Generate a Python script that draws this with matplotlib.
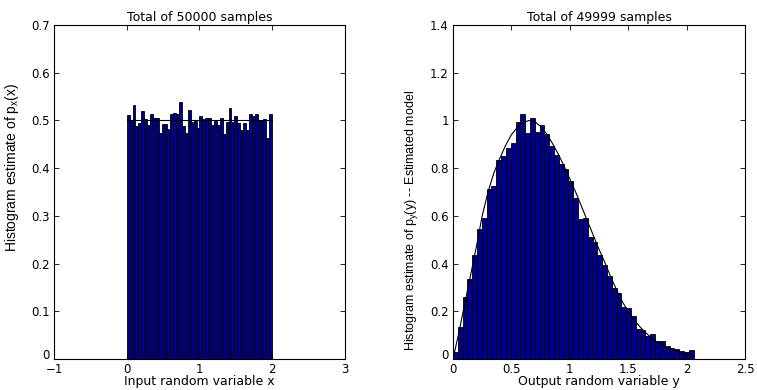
import numpy as np
import matplotlib
matplotlib.use("Agg")
import matplotlib.pyplot as plt
from matplotlib.ticker import FuncFormatter

plt.rcParams["mathtext.fontset"] = "custom"
plt.rcParams["mathtext.rm"] = "Liberation Sans"

# left panel: histogram of x (50 bins on [0, 2])
x_lo, x_hi = 0.0, 2.0
px_hist = [0.511, 0.500, 0.532, 0.489, 0.495, 0.520, 0.504, 0.490, 0.513, 0.505,
           0.505, 0.473, 0.492, 0.492, 0.483, 0.513, 0.515, 0.513, 0.538, 0.489,
           0.474, 0.521, 0.497, 0.499, 0.485, 0.509, 0.503, 0.505, 0.506, 0.491,
           0.499, 0.490, 0.505, 0.472, 0.497, 0.525, 0.496, 0.510, 0.494, 0.479,
           0.494, 0.479, 0.514, 0.510, 0.513, 0.501, 0.501, 0.504, 0.464, 0.513]
px_model_x = [0.0, 2.0]
px_model_y = [0.5, 0.5]

# right panel: histogram of y (50 bins on [0, 2.06])
y_lo, y_hi = 0.0, 2.06
py_hist = [0.028, 0.134, 0.259, 0.336, 0.435, 0.543, 0.589, 0.711, 0.724, 0.833,
           0.851, 0.883, 0.907, 0.994, 1.026, 0.946, 1.009, 0.952, 0.979, 0.944,
           0.893, 0.854, 0.818, 0.795, 0.746, 0.676, 0.585, 0.589, 0.512, 0.489,
           0.438, 0.392, 0.347, 0.298, 0.277, 0.220, 0.215, 0.180, 0.126, 0.123,
           0.095, 0.106, 0.074, 0.075, 0.053, 0.046, 0.040, 0.032, 0.028, 0.036]
py_model_x = [0.0, 0.05, 0.10, 0.15, 0.20, 0.25, 0.30, 0.35, 0.40, 0.45, 0.50,
              0.55, 0.60, 0.65, 0.70, 0.75, 0.80, 0.85, 0.90, 0.95, 1.00, 1.05,
              1.10, 1.15, 1.20, 1.25, 1.30, 1.35, 1.40, 1.45, 1.50, 1.55, 1.60,
              1.65, 1.70, 1.75, 1.80, 1.85, 1.90, 1.95, 2.00, 2.05]
py_model_y = [0.0, 0.11, 0.23, 0.35, 0.47, 0.60, 0.70, 0.78, 0.84, 0.895, 0.94,
              0.97, 0.99, 1.0, 0.995, 0.975, 0.945, 0.905, 0.86, 0.81, 0.755, 0.70,
              0.64, 0.58, 0.52, 0.46, 0.405, 0.345, 0.29, 0.24, 0.20, 0.165, 0.135,
              0.11, 0.088, 0.07, 0.056, 0.044, 0.034, 0.027, 0.021, 0.016]

bar_color = "#00008f"
tick_font = 8.5


def hist_panel(ax, lo, hi, heights):
    edges = np.linspace(lo, hi, len(heights) + 1)
    ax.bar(edges[:-1], heights, width=np.diff(edges), align="edge",
           color=bar_color, edgecolor="black", linewidth=0.6)


def fmt(v, pos):
    return ("%g" % v).replace("-", "\u2212")


def style(ax):
    ax.tick_params(direction="in", top=True, right=True, length=3.5, width=0.6,
                   labelsize=tick_font)
    ax.tick_params(axis="x", pad=3)
    ax.tick_params(axis="y", pad=3)
    ax.xaxis.set_major_formatter(FuncFormatter(fmt))
    ax.yaxis.set_major_formatter(FuncFormatter(fmt))
    for s in ax.spines.values():
        s.set_linewidth(0.8)
    # the "0" in the corner sits on the axis line, as in the original
    ax.yaxis.get_major_ticks()[0].label1.set_verticalalignment("baseline")


fig = plt.figure(figsize=(7.57, 3.90), dpi=100)

# --- left ---
ax1 = fig.add_axes([0.0713, 0.0795, 0.3844, 0.8564])
hist_panel(ax1, x_lo, x_hi, px_hist)
ax1.plot(px_model_x, px_model_y, color="black", linewidth=0.8)
ax1.set_xlim(-1, 3)
ax1.set_ylim(0, 0.7)
ax1.set_xticks([-1, 0, 1, 2, 3])
ax1.set_yticks(np.arange(0, 0.71, 0.1))
style(ax1)
ax1.set_title("Total of 50000 samples", fontsize=9, pad=3)
ax1.set_xlabel("Input random variable x", fontsize=9, labelpad=-1)
ax1.set_ylabel(r"Histogram estimate of p$_\mathregular{x}$(x)",
               fontsize=10, family="Liberation Sans")
ax1.yaxis.set_label_coords(-0.113, 0.575)

# --- right ---
ax2 = fig.add_axes([0.5984, 0.0795, 0.3857, 0.8564])
hist_panel(ax2, y_lo, y_hi, py_hist)
ax2.plot(py_model_x, py_model_y, color="black", linewidth=0.8)
ax2.set_xlim(0, 2.5)
ax2.set_ylim(0, 1.4)
ax2.set_xticks([0, 0.5, 1, 1.5, 2, 2.5])
ax2.set_yticks(np.arange(0, 1.41, 0.2))
style(ax2)
ax2.set_title("Total of 49999 samples", fontsize=9, pad=3)
ax2.set_xlabel("Output random variable y", fontsize=9, labelpad=-1)
ax2.set_ylabel(r"Histogram estimate of p$_\mathregular{y}$(y) -- Estimated model",
               fontsize=9, family="Liberation Sans")
ax2.yaxis.set_label_coords(-0.114, 0.414)

fig.savefig("out.png", dpi=100)
